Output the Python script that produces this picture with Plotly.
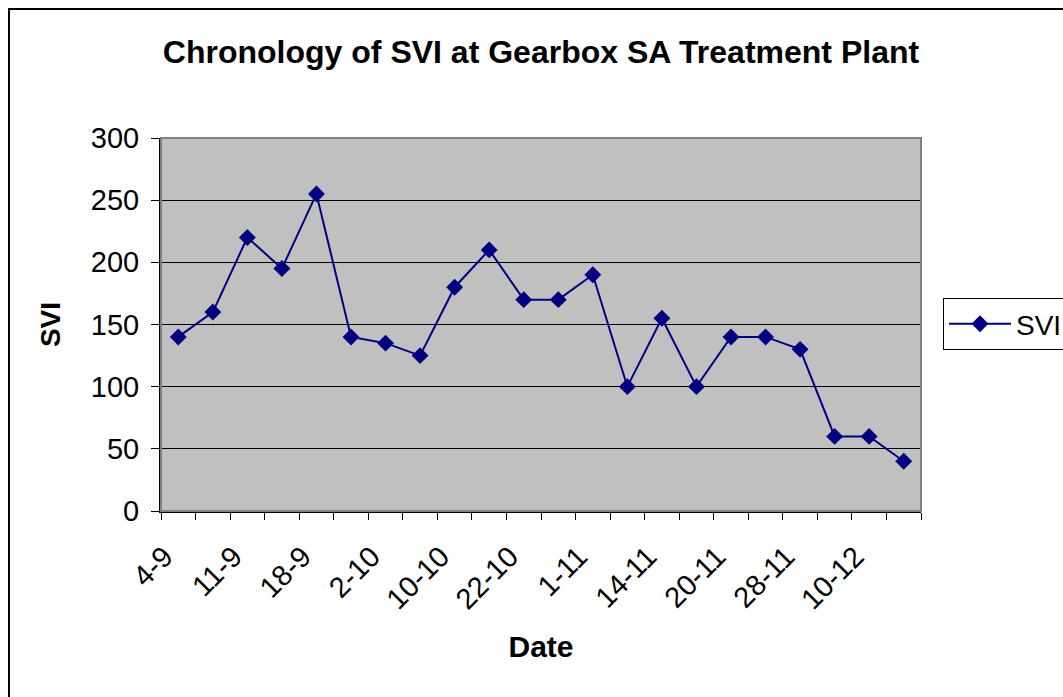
import plotly.graph_objects as go

# Data
svi_values = [140, 160, 220, 195, 255, 140, 135, 125, 180, 210, 170,
              170, 190, 100, 155, 100, 140, 140, 130, 60, 60, 40]
date_labels = ["4-9", "11-9", "18-9", "2-10", "10-10", "22-10",
               "1-11", "14-11", "20-11", "28-11", "10-12"]
label_positions = [0, 2, 4, 6, 8, 10, 12, 14, 16, 18, 20]
y_ticks = [0, 50, 100, 150, 200, 250, 300]

x_idx = list(range(len(svi_values)))
boundaries = [i - 0.5 for i in range(len(svi_values) + 1)]
label_shift = -0.4  # rotated labels sit slightly left of category centres
label_tickvals = [p + label_shift for p in label_positions]

FONT = "Liberation Sans, Arial, sans-serif"

W, H = 1063, 697
L, R, T, B = 161, 921, 138, 511

def px(xs):
    return (xs - L) / (R - L)

def py(ys):
    return (B - ys) / (B - T)

fig = go.Figure()
fig.add_trace(go.Scatter(
    x=x_idx, y=svi_values, mode="lines+markers", name="SVI",
    line=dict(color="#000080", width=2),
    marker=dict(symbol="diamond", size=13, color="#000080"),
))

fig.update_layout(
    width=W, height=H,
    margin=dict(l=L, r=W - R, t=T, b=H - B, autoexpand=False),
    paper_bgcolor="white",
    plot_bgcolor="#C0C0C0",
    font=dict(family=FONT, color="black", size=28),
    title=dict(text="<b>Chronology of SVI at Gearbox SA Treatment Plant</b>",
               xref="paper", x=0.5, xanchor="center",
               y=1 - 52 / H, yanchor="middle",
               font=dict(size=32, family=FONT)),
    showlegend=True,
    legend=dict(x=px(943), xanchor="left",
                y=py(324), yanchor="middle", itemwidth=62,
                bgcolor="white", bordercolor="black", borderwidth=1,
                font=dict(size=28, family=FONT)),
    xaxis=dict(
        range=[-0.5, len(svi_values) - 0.5],
        tickmode="array", tickvals=label_tickvals, ticktext=date_labels,
        tickangle=-45, ticks="", ticklabelstandoff=15,
        tickfont=dict(size=29),
        showgrid=False, zeroline=False,
        showline=True, linecolor="black", linewidth=2,
        minor=dict(tickmode="array", tickvals=boundaries, ticks="outside",
                   ticklen=7, tickcolor="black", tickwidth=1, showgrid=False),
        title=dict(text="<b>Date</b>", font=dict(size=30), standoff=22),
    ),
    yaxis=dict(
        range=[0, 300], tickmode="array", tickvals=y_ticks,
        ticks="outside", ticklen=8, tickcolor="black", ticklabelstandoff=6,
        tickfont=dict(size=29),
        showgrid=True, gridcolor="black", gridwidth=1,
        zeroline=False, showline=True, linecolor="black", linewidth=2,
        title=dict(text="<b>SVI</b>", font=dict(size=28), standoff=22),
    ),
    shapes=[
        # plot-area border (gray top/right)
        dict(type="rect", xref="paper", yref="paper", x0=0, x1=1, y0=0, y1=1,
             line=dict(color="#808080", width=2), layer="above"),
        # chart-area border
        dict(type="rect", xref="paper", yref="paper",
             x0=px(9), x1=px(1090), y0=py(720), y1=py(9),
             line=dict(color="black", width=2), layer="above"),
    ],
)

fig.write_html("out.html",
               config={"displayModeBar": False},
               post_script="document.body.style.margin='0';"
                           "document.body.style.overflow='hidden';")
